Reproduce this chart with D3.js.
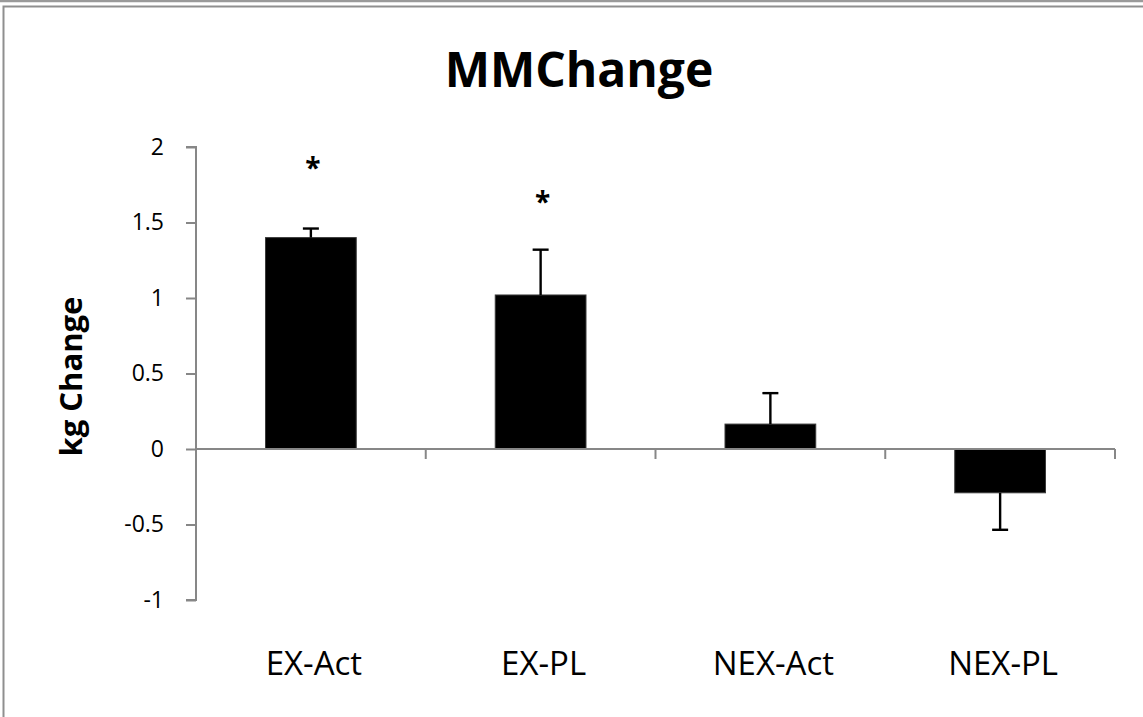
<!DOCTYPE html>
<html>
<head>
<meta charset="utf-8">
<script src="https://cdn.jsdelivr.net/npm/d3@7"></script>
<style>
  html, body { margin: 0; padding: 0; background: #fff; }
  svg { display: block; }
  text { font-family: "Open Sans", "DejaVu Sans", sans-serif; fill: #000; }
</style>
</head>
<body>
<svg id="chart" width="1143" height="717"></svg>
<script>
// Mean change in muscle mass (kg) per group, with one-sided error bars
const groups = ["EX-Act", "EX-PL", "NEX-Act", "NEX-PL"];
const meanChange = [1.40, 1.02, 0.165, -0.29];
const errorSize = [0.06, 0.30, 0.205, 0.245];
// significance markers: group and the value where the asterisk sits
const starGroups = ["EX-Act", "EX-PL"];
const starValues = [1.89, 1.66];
const yTicks = [-1, -0.5, 0, 0.5, 1, 1.5, 2];

const svg = d3.select("#chart");
const W = 1143, H = 717;
const plot = { left: 196, right: 1115, top: 147, bottom: 600 };

// outer frame
svg.append("line").attr("x1", 0).attr("x2", W).attr("y1", 1).attr("y2", 1)
  .attr("stroke", "#9a9a9a").attr("stroke-width", 2.5);
svg.append("rect").attr("x", 3.5).attr("y", 6.5).attr("width", W + 20).attr("height", H + 20)
  .attr("fill", "none").attr("stroke", "#8f8f8f").attr("stroke-width", 2);

const x = d3.scaleBand().domain(groups).range([plot.left, plot.right]).padding(0);
const y = d3.scaleLinear().domain([-1, 2]).range([plot.bottom, plot.top]);
const barW = x.bandwidth() * 0.395;
const axisColor = "#878787";

// title
svg.append("text").attr("x", 579).attr("y", 87).attr("text-anchor", "middle")
  .style("font-size", "48px").style("font-weight", "700").text("MMChange");

// y axis title
svg.append("text")
  .attr("transform", `translate(82, ${y(0.48)}) rotate(-90)`)
  .attr("text-anchor", "middle")
  .style("font-size", "31px").style("font-weight", "700").text("kg Change");

// y axis
const yAxis = svg.append("g").attr("transform", `translate(${plot.left},0)`)
  .call(d3.axisLeft(y).tickValues(yTicks).tickSize(10).tickPadding(22)
    .tickFormat(d => String(d)));
yAxis.select(".domain").attr("stroke", axisColor).attr("stroke-width", 2)
  .attr("d", `M-10,${y(2)}H0V${y(-1)}H-10`);
yAxis.selectAll(".tick line").attr("stroke", axisColor).attr("stroke-width", 2);
yAxis.selectAll(".tick text").style("font-size", "23px")
  .style("font-family", "'Open Sans', sans-serif").attr("fill", "#000");

// bars
svg.append("g").selectAll("rect").data(groups).join("rect")
  .attr("x", (d) => x(d) + (x.bandwidth() - barW) / 2)
  .attr("width", barW)
  .attr("y", (d, i) => y(Math.max(0, meanChange[i])))
  .attr("height", (d, i) => Math.abs(y(meanChange[i]) - y(0)))
  .attr("fill", "#000").attr("stroke", "#3a3a3a").attr("stroke-width", 1);

// error bars (outward direction only)
const eb = svg.append("g").attr("stroke", "#000").attr("stroke-width", 2.4);
groups.forEach((g, i) => {
  const cx = x(g) + x.bandwidth() / 2;
  const v = meanChange[i];
  const end = v >= 0 ? v + errorSize[i] : v - errorSize[i];
  eb.append("line").attr("x1", cx).attr("x2", cx).attr("y1", y(v)).attr("y2", y(end));
  eb.append("line").attr("x1", cx - 8).attr("x2", cx + 8).attr("y1", y(end)).attr("y2", y(end));
});

// category axis along zero
const xAxis = svg.append("g").attr("transform", `translate(0,${y(0)})`);
xAxis.append("line").attr("x1", plot.left).attr("x2", plot.right)
  .attr("stroke", axisColor).attr("stroke-width", 2);
xAxis.selectAll(".cat-tick").data(groups).join("line").attr("class", "cat-tick")
  .attr("x1", d => x(d) + x.bandwidth()).attr("x2", d => x(d) + x.bandwidth())
  .attr("y1", 0).attr("y2", 10).attr("stroke", axisColor).attr("stroke-width", 2);

// category labels below plot
svg.append("g").selectAll("text").data(groups).join("text")
  .attr("x", d => x(d) + x.bandwidth() / 2 + 3)
  .attr("y", 675).attr("text-anchor", "middle")
  .style("font-size", "33px").text(d => d);

// significance asterisks
svg.append("g").selectAll("text").data(starGroups).join("text")
  .attr("x", d => x(d) + x.bandwidth() / 2 + 2)
  .attr("y", (d, i) => y(starValues[i]) + 14)
  .attr("text-anchor", "middle")
  .style("font-size", "28px").style("font-weight", "700").text("*");
</script>
</body>
</html>
